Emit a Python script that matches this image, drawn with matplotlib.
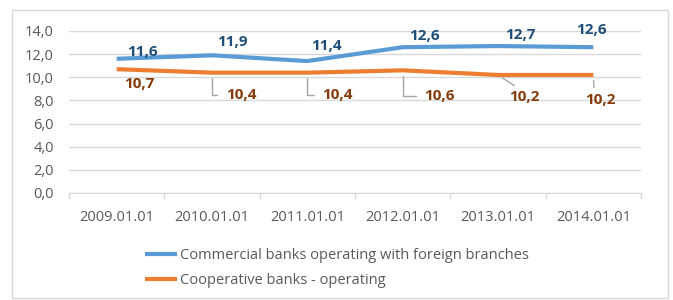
import matplotlib.pyplot as plt
from matplotlib.patches import Rectangle
from matplotlib.ticker import FixedLocator

plt.rcParams['font.family'] = ['Liberation Sans Narrow', 'Open Sans', 'DejaVu Sans']

dates = ['2009.01.01', '2010.01.01', '2011.01.01', '2012.01.01', '2013.01.01', '2014.01.01']
commercial = [11.6, 11.9, 11.4, 12.6, 12.7, 12.6]
cooperative = [10.7, 10.4, 10.4, 10.6, 10.2, 10.2]
yticks = [0, 2, 4, 6, 8, 10, 12, 14]

# label offsets in pixels (dx, dy)
blue_off = [(26, 7), (20, 13), (19, 15), (22, 11), (22, 11), (-2, 17)]
orange_off = [(23, -15), (29, -22), (30, -22), (37, -26), (26, -22), (7, -25)]
# leader style per orange label: None, 'L' (elbow) or a relpos for a straight one
orange_leader = [None, 'L', 'L', 'L', (0.4, 1), (0.3, 1)]

blue = '#5B9BD5'
orange = '#ED7D31'
blue_txt = '#1F4E79'
orange_txt = '#843C0C'
grey_txt = '#595959'

fig = plt.figure(figsize=(6.73, 3.0), dpi=100)
ax = fig.add_axes([69 / 673, 1 - 193 / 300, (641 - 69) / 673, (193 - 31) / 300])

x = list(range(len(dates)))
ax.plot(x, commercial, color=blue, lw=3, solid_capstyle='butt',
        label='Commercial banks operating with foreign branches', zorder=3)
ax.plot(x, cooperative, color=orange, lw=3, solid_capstyle='butt',
        label='Cooperative banks - operating', zorder=3)

ax.set_xlim(-0.5, len(dates) - 0.5)
ax.set_ylim(0, 14)
ax.set_yticks(yticks)
ax.set_yticklabels([f'{v:.1f}'.replace('.', ',') for v in yticks])
ax.set_xticks(x)
ax.set_xticklabels(dates)
ax.xaxis.set_minor_locator(FixedLocator([i - 0.5 for i in range(len(dates) + 1)]))
ax.tick_params(axis='x', which='major', length=0, pad=12, labelsize=10.5, colors=grey_txt)
ax.tick_params(axis='x', which='minor', length=4, color='#D9D9D9', width=1)
ax.tick_params(axis='y', length=0, pad=11, labelsize=10.5, colors=grey_txt)

ax.grid(axis='y', color='#D9D9D9', lw=1)
ax.set_axisbelow(True)
for s in ['top', 'right', 'left']:
    ax.spines[s].set_visible(False)
ax.spines['bottom'].set_color('#D9D9D9')

for i, v in enumerate(commercial):
    ax.annotate(f'{v:.1f}'.replace('.', ','), (i, v), xytext=blue_off[i],
                textcoords='offset pixels', ha='center', va='center',
                fontsize=11, fontweight='bold', color=blue_txt, zorder=4)

for i, v in enumerate(cooperative):
    kw = {}
    if orange_leader[i] == 'L':
        kw['arrowprops'] = dict(arrowstyle='-', color='#A6A6A6', lw=1,
                                connectionstyle='angle,angleA=0,angleB=90,rad=0',
                                relpos=(0, 0.5), shrinkA=4, shrinkB=4)
    elif orange_leader[i] is not None:
        kw['arrowprops'] = dict(arrowstyle='-', color='#A6A6A6', lw=1,
                                relpos=orange_leader[i], shrinkA=2, shrinkB=4)
    ax.annotate(f'{v:.1f}'.replace('.', ','), (i, v), xytext=orange_off[i],
                textcoords='offset pixels', ha='center', va='center',
                fontsize=11, fontweight='bold', color=orange_txt, zorder=4, **kw)

leg = fig.legend(loc='upper center', bbox_to_anchor=(0.5, 1 - 235 / 300), ncol=1,
                 frameon=False, fontsize=10.5, handlelength=2.2, handletextpad=0.2,
                 labelspacing=0.7)
for t in leg.get_texts():
    t.set_color(grey_txt)

fig.patches.append(Rectangle((12 / 673, 1 - 298 / 300), 656 / 673, 288 / 300,
                             transform=fig.transFigure, fill=False,
                             edgecolor='#D9D9D9', lw=1))

fig.savefig('out.png', dpi=100)
